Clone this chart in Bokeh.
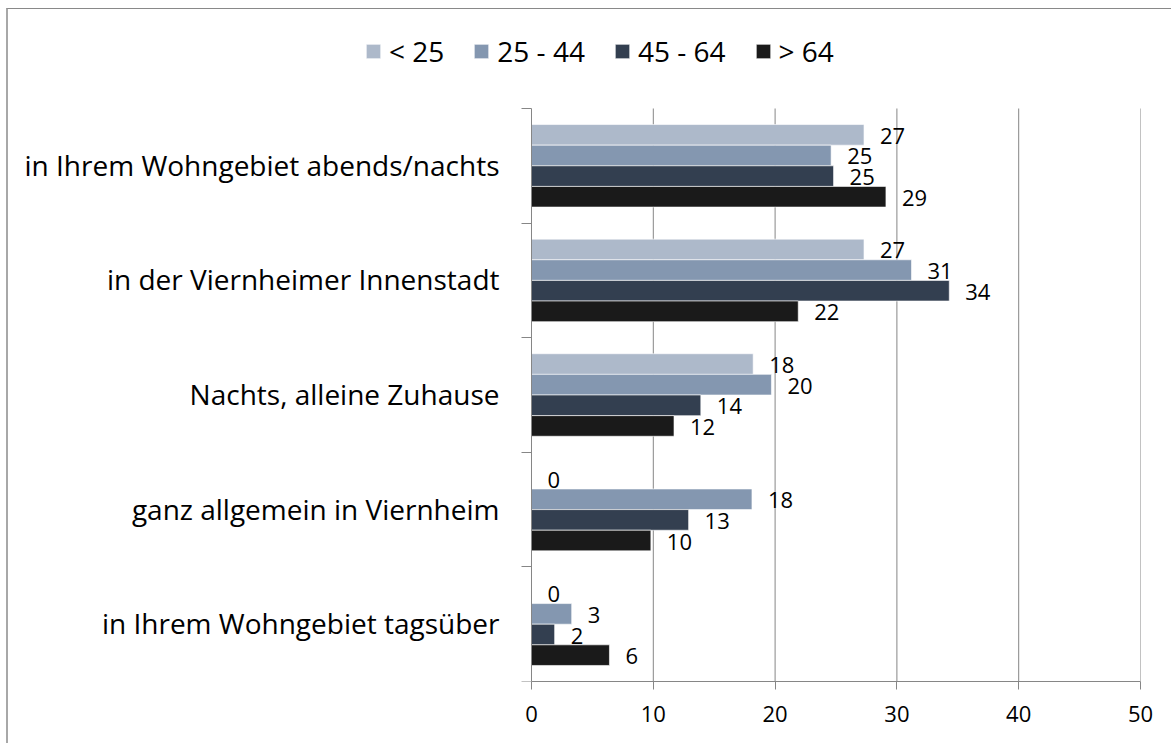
from bokeh.plotting import figure
from bokeh.models import ColumnDataSource, Range1d, FixedTicker, Legend, LegendItem
from bokeh.transform import dodge
from bokeh.core.properties import value
from bokeh.embed import file_html
from bokeh.resources import INLINE

# ---- data ----
categories = [
    "in Ihrem Wohngebiet abends/nachts",
    "in der Viernheimer Innenstadt",
    "Nachts, alleine Zuhause",
    "ganz allgemein in Viernheim",
    "in Ihrem Wohngebiet tagsüber",
]
series_names = ["< 25", "25 - 44", "45 - 64", "> 64"]
under_25 = [27.3, 27.3, 18.2, 0.0, 0.0]
age_25_44 = [24.6, 31.2, 19.7, 18.1, 3.3]
age_45_64 = [24.8, 34.3, 13.9, 12.9, 1.9]
over_64 = [29.1, 21.9, 11.7, 9.8, 6.4]
x_ticks = [0, 10, 20, 30, 40, 50]

colors = ["#adb9ca", "#8497b0", "#333f50", "#1a1a1a"]
FONT = "Open Sans"
GRAY = "#868686"

# ---- layout (pixels) ----
W, H = 1165, 735
FRAME_L, FRAME_R_PAD, FRAME_B_PAD = 12, 33, 63
ZERO_PX = 511          # distance from frame left to value 0
TOP_PAD = 99           # empty space above the category bands (legend area)

n = len(categories)
yc = [n - i - 0.5 for i in range(n)]
frame_w = W - FRAME_L - FRAME_R_PAD
frame_h = H - FRAME_B_PAD
x_max = x_ticks[-1]
x_min = -x_max * ZERO_PX / (frame_w - ZERO_PX)
y_max = n * frame_h / (frame_h - TOP_PAD)

p = figure(
    width=W, height=H,
    output_backend="svg", toolbar_location=None,
    x_range=Range1d(x_min, x_max), y_range=Range1d(0, y_max),
    min_border_left=FRAME_L, min_border_right=FRAME_R_PAD,
    min_border_top=0, min_border_bottom=FRAME_B_PAD,
)
p.styles = {
    "margin-left": "6px", "margin-top": "8px",
    "border-left": "2px solid #a8a8a8", "border-top": "1px solid #898989",
}
p.outline_line_color = None
p.background_fill_color = "white"
p.border_fill_color = "white"
p.xgrid.grid_line_color = None
p.ygrid.grid_line_color = None

# x axis
p.xaxis.ticker = FixedTicker(ticks=x_ticks)
p.xaxis.bounds = (x_ticks[0], x_ticks[-1])
p.xaxis.axis_line_color = GRAY
p.xaxis.major_tick_line_color = GRAY
p.xaxis.major_tick_out = 8
p.xaxis.major_tick_in = 0
p.xaxis.minor_tick_line_color = None
p.xaxis.major_label_text_font = FONT
p.xaxis.major_label_text_font_size = "22px"
p.xaxis.major_label_text_color = "#000000"
p.xaxis.major_label_standoff = 16

# y axis at value 0, ticks at band boundaries
p.yaxis.fixed_location = 0
p.yaxis.bounds = (0, n)
p.yaxis.ticker = FixedTicker(ticks=[], minor_ticks=list(range(n + 1)))
p.yaxis.axis_line_color = GRAY
p.yaxis.major_tick_line_color = None
p.yaxis.major_tick_out = 0
p.yaxis.major_tick_in = 0
p.yaxis.minor_tick_line_color = GRAY
p.yaxis.minor_tick_out = 10
p.yaxis.minor_tick_in = 0
p.yaxis.major_label_standoff = 0

# vertical gridlines
grid_x = x_ticks[1:]
p.segment(x0=grid_x, y0=[0] * len(grid_x), x1=grid_x, y1=[n] * len(grid_x),
          line_color=GRAY, line_width=1)

# category labels
p.text(x=0, y=yc, text=categories, x_offset=-32, y_offset=-1, text_align="right",
       text_baseline="middle", text_font=value(FONT), text_font_size="28px",
       text_color="#000000")

offsets = [0.27, 0.09, -0.09, -0.27]
all_series = [under_25, age_25_44, age_45_64, over_64]
items = []
for name, vals, col, off in zip(series_names, all_series, colors, offsets):
    src = ColumnDataSource(dict(
        yc=yc, v=vals, lbl=[str(int(round(v))) for v in vals]))
    r = p.hbar(y=dodge("yc", off, range=p.y_range), left=0, right="v",
               height=0.18, source=src, fill_color=col,
               line_color="white", line_alpha=0.6, line_width=1)
    p.text(x="v", y=dodge("yc", off, range=p.y_range), text="lbl", source=src,
           x_offset=16, y_offset=1, text_align="left", text_baseline="middle",
           text_font=value(FONT), text_font_size="22px", text_color="#000000")
    items.append(LegendItem(label=name, renderers=[r]))

legend = Legend(
    items=items, orientation="horizontal", location=(344, 611),
    glyph_width=18, glyph_height=18, label_height=18, label_standoff=7,
    spacing=28, padding=0, margin=0,
    border_line_color=None, background_fill_alpha=0,
    label_text_font=FONT, label_text_font_size="28px", label_text_color="#000000",
)
p.add_layout(legend)

open("out.html", "w").write(file_html(p, INLINE))
